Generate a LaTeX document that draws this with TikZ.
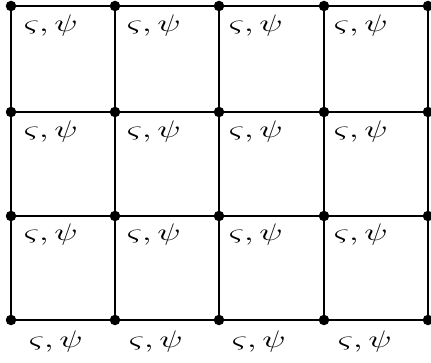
\documentclass[tikz,border=0pt]{standalone}
\newcommand{\sigpsi}{\scalebox{3.4}[2.4]{$\varsigma,\psi$}}
\begin{document}
\begin{tikzpicture}[x=1pt,y=-1pt,
  gridline/.style={line width=2pt,black},
  dot/.style={circle,fill=black,inner sep=0pt,minimum size=10.5pt},
  lab/.style={inner sep=0pt}]
\useasboundingbox (0,0) rectangle (431,363);
\foreach \i/\x in {0/11,1/115,2/219,3/324,4/428}{
  \foreach \j/\y in {0/6,1/112,2/216,3/320}{
    \coordinate (p\i\j) at (\x,\y);
  }
}
% grid lines
\foreach \j in {0,1,2,3}{ \draw[gridline] (p0\j) -- (p4\j); }
\foreach \i in {0,1,2,3,4}{ \draw[gridline] (p\i0) -- (p\i3); }
% dots
\foreach \i in {0,1,2,3,4}{
  \foreach \j in {0,1,2,3}{
    \node[dot] (d\i\j) at (p\i\j) {};
  }
}
% labels in cells
\foreach \i/\x/\bx in {0/51/56,1/154/156,2/256/259,3/361/365}{
  \foreach \j/\y in {0/26,1/132,2/235}{
    \node[lab] (l\i\j) at (\x,\y) {\sigpsi};
  }
  \node[lab] (b\i) at (\bx,342) {\sigpsi};
}
\end{tikzpicture}
\end{document}
